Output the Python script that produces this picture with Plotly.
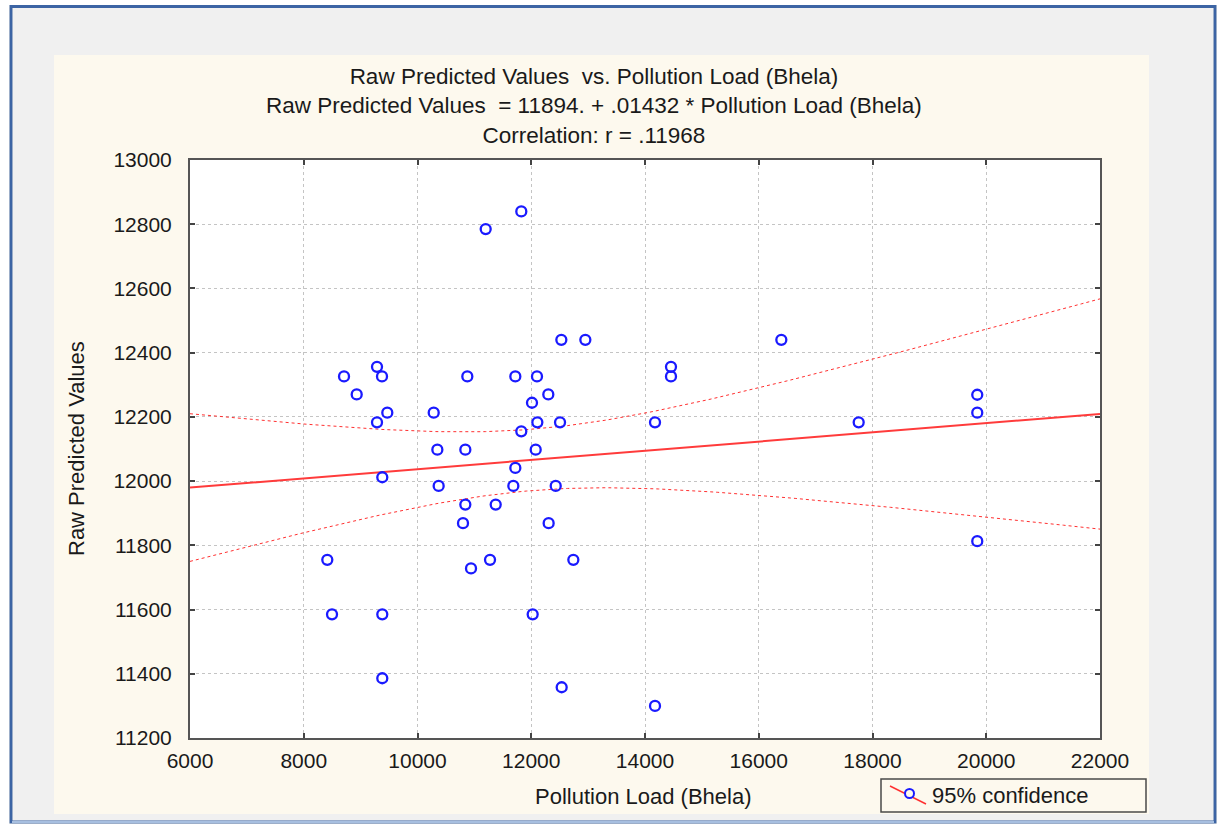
import numpy as np
import plotly.graph_objects as go

# ---------------- data ----------------
pollution_load = [
    11825, 11199, 12529, 12951, 8708, 9288, 9376, 8931, 10876, 11720,
    12101, 12300, 12013, 9469, 10285, 9288, 12107, 12506, 11825,
    10349, 10841, 12078, 9381, 11720, 10372, 11685, 12430, 10841, 11375,
    10800, 12306, 8414, 11275, 12740, 10941, 8497, 9381, 12025, 9381, 12535,
    16397, 14457, 14457, 14176, 17757, 19842, 19842, 19842, 14176,
]
raw_predicted = [
    12840, 12785, 12440, 12440, 12326, 12356, 12326, 12270, 12326, 12326,
    12326, 12270, 12244, 12213, 12213, 12183, 12183, 12183, 12155,
    12098, 12098, 12098, 12012, 12041, 11985, 11985, 11985, 11927, 11927,
    11869, 11869, 11755, 11755, 11755, 11728, 11585, 11585, 11585, 11386, 11358,
    12440, 12356, 12326, 12183, 12183, 12269, 12213, 11813, 11300,
]
intercept = 11894.0
slope = 0.01432
intercept_label = "11894."
slope_label = ".01432"
r_label = ".11968"
t_crit = 2.0117          # t(0.975, df = n-2)
x_ticks = [6000, 8000, 10000, 12000, 14000, 16000, 18000, 20000, 22000]
y_ticks = [11200, 11400, 11600, 11800, 12000, 12200, 12400, 12600, 12800, 13000]
x_name = "Pollution Load (Bhela)"
y_name = "Raw Predicted Values"
legend_label = "95% confidence"

# ---------------- regression line and 95% confidence band ----------------
xa = np.array(pollution_load, dtype=float)
ya = np.array(raw_predicted, dtype=float)
n = len(xa)
resid = ya - (intercept + slope * xa)
s = np.sqrt(np.sum(resid ** 2) / (n - 2))
xm = xa.mean()
sxx = np.sum((xa - xm) ** 2)
xg = np.linspace(x_ticks[0], x_ticks[-1], 201)
yhat = intercept + slope * xg
half = t_crit * s * np.sqrt(1.0 / n + (xg - xm) ** 2 / sxx)

# ---------------- geometry (pixels) ----------------
W, H = 1224, 825
L, R, T, B = 190, 1100, 160, 738


def px(X):
    return (X - L) / (R - L)


def py(Y):
    return (B - Y) / (B - T)


FONT = "Liberation Sans, Arial, sans-serif"
TXT = "#1a1a1a"
CREAM = "#fdf9ee"
GRAY = "#f0f0f0"
BLUE_BORDER = "#3c64a4"

fig = go.Figure()

fig.add_trace(go.Scatter(x=xg, y=yhat + half, mode="lines",
                         line=dict(color="#ff3030", width=1, dash="dot"),
                         hoverinfo="skip", showlegend=False))
fig.add_trace(go.Scatter(x=xg, y=yhat - half, mode="lines",
                         line=dict(color="#ff3030", width=1, dash="dot"),
                         hoverinfo="skip", showlegend=False))
fig.add_trace(go.Scatter(x=xg, y=yhat, mode="lines",
                         line=dict(color="#ff3b3b", width=2),
                         hoverinfo="skip", showlegend=False))
fig.add_trace(go.Scatter(x=pollution_load, y=raw_predicted, mode="markers",
                         marker=dict(symbol="circle-open", size=10,
                                     color="#1a1aff", line=dict(width=2.3, color="#1a1aff")),
                         showlegend=False))


def rect(x0, y0, x1, y1, fill=None, line_color=None, line_width=0, layer="below"):
    fig.add_shape(type="rect", xref="paper", yref="paper",
                  x0=px(x0), x1=px(x1), y0=py(y1), y1=py(y0),
                  fillcolor=fill if fill else "rgba(0,0,0,0)",
                  line=dict(color=line_color if line_color else "rgba(0,0,0,0)",
                            width=line_width),
                  layer=layer)


# outer white margins
rect(0, 0, W, 5, fill="white")
rect(0, 0, 9, H, fill="white")
rect(1217, 0, W, H, fill="white")
rect(0, 824, W, H, fill="white")
# gray frame around cream panel
rect(13, 8, 1213, 55, fill=GRAY)
rect(13, 55, 54, 814, fill=GRAY)
rect(1149, 55, 1213, 814, fill=GRAY)
rect(13, 814, 1213, 821, fill=GRAY)
# blue border
rect(11, 6.5, 1215, 822, line_color=BLUE_BORDER, line_width=3)
fig.add_shape(type="line", xref="paper", yref="paper",
              x0=px(12), x1=px(1214), y0=py(822), y1=py(822),
              line=dict(color="#a7bfe0", width=2), layer="below")

# legend box
rect(881, 779, 1146, 812, fill=CREAM, line_color="#4a4a4a", line_width=1.5, layer="above")
fig.add_shape(type="line", xref="paper", yref="paper",
              x0=px(890), x1=px(926), y0=py(786), y1=py(804),
              line=dict(color="#ff3030", width=1.5), layer="above")
fig.add_shape(type="circle", xref="paper", yref="paper",
              x0=px(905), x1=px(914), y0=py(798), y1=py(789),
              fillcolor=CREAM, line=dict(color="#1a1aff", width=2), layer="above")
fig.add_annotation(x=px(930), y=py(795.5), xref="paper", yref="paper",
                   text=legend_label, showarrow=False, xanchor="left", yanchor="middle",
                   font=dict(family=FONT, size=22, color=TXT))

# titles
title_text = (f"{y_name}&nbsp; vs. {x_name}<br>"
              f"{y_name}&nbsp; = {intercept_label} + {slope_label} * {x_name}<br>"
              f"Correlation: r = {r_label}")
fig.add_annotation(x=px(594), y=py(106), xref="paper", yref="paper",
                   text=title_text, showarrow=False, xanchor="center", yanchor="middle",
                   align="center", font=dict(family=FONT, size=22.5, color=TXT))
fig.add_annotation(x=px(643), y=py(797), xref="paper", yref="paper",
                   text=x_name, showarrow=False, xanchor="center", yanchor="middle",
                   font=dict(family=FONT, size=22, color=TXT))
fig.add_annotation(x=px(76), y=py(449), xref="paper", yref="paper",
                   text=y_name, showarrow=False, textangle=-90,
                   xanchor="center", yanchor="middle",
                   font=dict(family=FONT, size=22, color=TXT))

axis_common = dict(
    showline=True, linecolor="#555555", linewidth=2, mirror="ticks",
    ticks="inside", ticklen=5, tickwidth=1.5, tickcolor="#444444",
    showgrid=True, gridcolor="#c4c4c4", gridwidth=1, griddash="dot",
    zeroline=False,
    tickfont=dict(family=FONT, size=21, color=TXT),
)
fig.update_xaxes(range=[x_ticks[0], x_ticks[-1]], tickvals=x_ticks,
                 ticktext=[str(v) for v in x_ticks], ticklabelstandoff=3, **axis_common)
fig.update_yaxes(range=[y_ticks[0], y_ticks[-1]], tickvals=y_ticks,
                 ticktext=[str(v) for v in y_ticks], ticklabelstandoff=12, **axis_common)

fig.update_layout(
    width=W, height=H,
    margin=dict(l=L, r=W - R, t=T, b=H - B, pad=0),
    paper_bgcolor=CREAM, plot_bgcolor="white",
    showlegend=False,
    font=dict(family=FONT, color=TXT),
)

fig.write_html("out.html", config={"displayModeBar": False},
               post_script="document.body.style.margin='0';document.body.style.overflow='hidden';")
